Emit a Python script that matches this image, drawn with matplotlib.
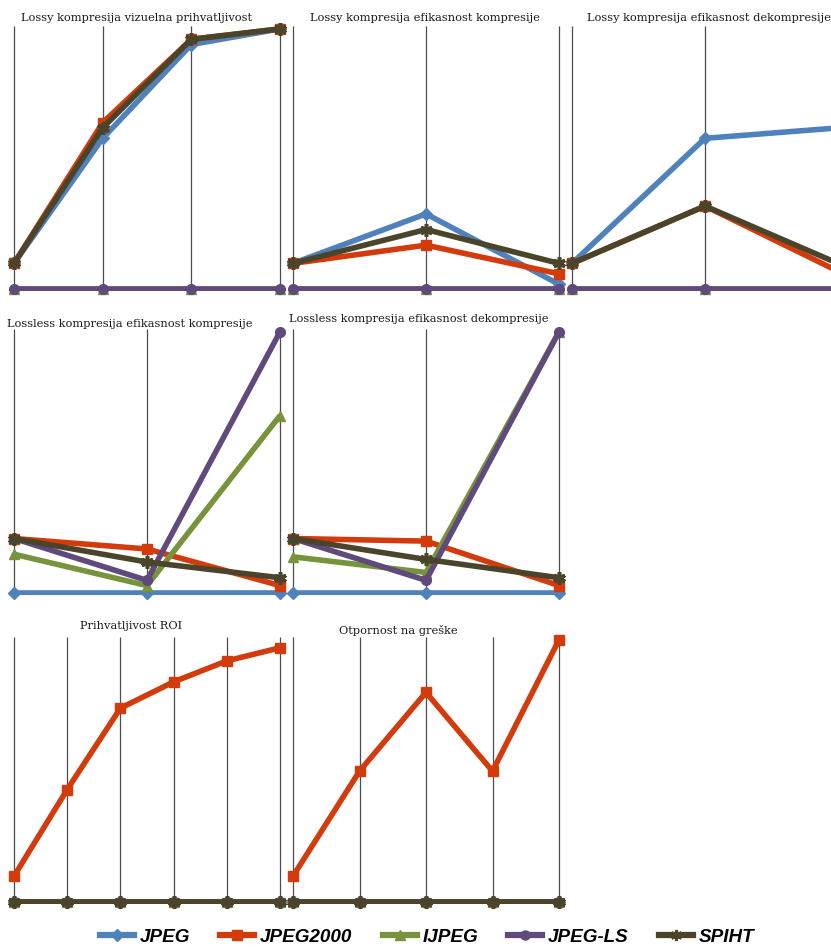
import matplotlib
matplotlib.use("Agg")
import matplotlib.pyplot as plt
from matplotlib.lines import Line2D
from matplotlib.font_manager import FontProperties

# ========= Data (0 = panel baseline, 1 = panel top) =========
series = ["JPEG", "JPEG2000", "IJPEG", "JPEG-LS", "SPIHT"]
colors = ["#4F81BD", "#D33A0C", "#77933C", "#604A7B", "#4A452A"]
markers = ["D", "s", "^", "o", (6, 2, 0)]

lossy_visual = {
    "JPEG":     [0.10, 0.58, 0.94, 1.00],
    "JPEG2000": [0.10, 0.64, 0.96, 1.00],
    "IJPEG":    [0.00, 0.00, 0.00, 0.00],
    "JPEG-LS":  [0.00, 0.00, 0.00, 0.00],
    "SPIHT":    [0.10, 0.62, 0.96, 1.00],
}
lossy_comp = {
    "JPEG":     [0.10, 0.29, 0.02],
    "JPEG2000": [0.10, 0.17, 0.06],
    "IJPEG":    [0.00, 0.00, 0.00],
    "JPEG-LS":  [0.00, 0.00, 0.00],
    "SPIHT":    [0.10, 0.23, 0.10],
}
lossy_decomp = {
    "JPEG":     [0.10, 0.58, 0.62],
    "JPEG2000": [0.10, 0.32, 0.07],
    "IJPEG":    [0.00, 0.00, 0.00],
    "JPEG-LS":  [0.00, 0.00, 0.00],
    "SPIHT":    [0.10, 0.32, 0.10],
}
lossless_comp = {
    "JPEG":     [0.00, 0.00, 0.00],
    "JPEG2000": [0.21, 0.17, 0.03],
    "IJPEG":    [0.15, 0.03, 0.68],
    "JPEG-LS":  [0.21, 0.05, 1.00],
    "SPIHT":    [0.21, 0.12, 0.06],
}
lossless_decomp = {
    "JPEG":     [0.00, 0.00, 0.00],
    "JPEG2000": [0.21, 0.20, 0.03],
    "IJPEG":    [0.14, 0.08, 1.00],
    "JPEG-LS":  [0.21, 0.05, 1.00],
    "SPIHT":    [0.21, 0.13, 0.06],
}
roi = {
    "JPEG":     [0, 0, 0, 0, 0, 0],
    "JPEG2000": [0.10, 0.43, 0.74, 0.84, 0.92, 0.97],
    "IJPEG":    [0, 0, 0, 0, 0, 0],
    "JPEG-LS":  [0, 0, 0, 0, 0, 0],
    "SPIHT":    [0, 0, 0, 0, 0, 0],
}
errors = {
    "JPEG":     [0, 0, 0, 0, 0],
    "JPEG2000": [0.10, 0.50, 0.80, 0.50, 1.00],
    "IJPEG":    [0, 0, 0, 0, 0],
    "JPEG-LS":  [0, 0, 0, 0, 0],
    "SPIHT":    [0, 0, 0, 0, 0],
}

# ========= Layout (pixels) =========
W, H = 831, 949
fig = plt.figure(figsize=(W / 100, H / 100), dpi=100)

TOP = 1.08   # headroom above value 1
PADX = 0.06


def marker_kw(m):
    if isinstance(m, tuple):
        return dict(markersize=9, markeredgewidth=2.6)
    if m == "s":
        return dict(markersize=7.5, markeredgewidth=1)
    if m == "D":
        return dict(markersize=6, markeredgewidth=1)
    return dict(markersize=7, markeredgewidth=1)


def panel(data, x0, x1, y0, y1, title, tx, ty):
    n = len(next(iter(data.values())))
    span = x1 - x0
    unit = span / (n - 1)
    left = x0 - PADX * unit
    width = span + 2 * PADX * unit
    ytop = y0 - TOP * (y0 - y1)
    ax = fig.add_axes([left / W, 1 - y0 / H, width / W, (y0 - ytop) / H])
    ax.set_xlim(-PADX, n - 1 + PADX)
    ax.set_ylim(-0.006, TOP)
    ax.axis("off")
    ax.vlines(range(n), 0, 1.01, color="#4d4d4d", linewidth=0.9, zorder=1)
    for i, (name, c, m) in enumerate(zip(series, colors, markers)):
        vals = data[name]
        z = 2 + 2 * i
        ax.plot(range(n), vals, color=c, linewidth=4.0, solid_capstyle="butt", zorder=z)
        ax.plot(range(n), vals, linestyle="none", marker=m, color=c,
                clip_on=False, zorder=z + 1, **marker_kw(m))
    fig.text(tx / W, 1 - ty / H, title, ha="center", va="center",
             family="DejaVu Serif", fontsize=8.2, color="#1a1a1a")
    return ax


panel(lossy_visual, 14, 280, 291, 29, "Lossy kompresija vizuelna prihvatljivost", 137, 18)
panel(lossy_comp, 293, 559, 291, 29, "Lossy kompresija efikasnost kompresije", 425, 18)
panel(lossy_decomp, 572, 838, 291, 29, "Lossy kompresija efikasnost dekompresije", 709, 18)
panel(lossless_comp, 14, 280, 595, 332, "Lossless kompresija efikasnost kompresije", 130, 324)
panel(lossless_decomp, 293, 559, 595, 332, "Lossless kompresija efikasnost dekompresije", 419, 319)
panel(roi, 14, 280, 904, 640, "Prihvatljivost ROI", 131, 626)
panel(errors, 293, 559, 904, 640, "Otpornost na greške", 398, 630)

# ========= Legend =========
handles = [Line2D([0], [0], color=c, marker=m, linewidth=4.5,
                  markersize=8 if isinstance(m, tuple) else 6.5,
                  markeredgewidth=2.2 if isinstance(m, tuple) else 1)
           for c, m in zip(colors, markers)]
fig.legend(handles, series, loc="center", bbox_to_anchor=(427 / W, 1 - 937 / H),
           ncol=5, frameon=False, handlelength=1.8, handletextpad=0.3,
           columnspacing=1.6,
           prop=FontProperties(family="Liberation Sans", weight="bold", style="italic", size=13.6))

fig.savefig("out.png", dpi=100)
plt.close(fig)
